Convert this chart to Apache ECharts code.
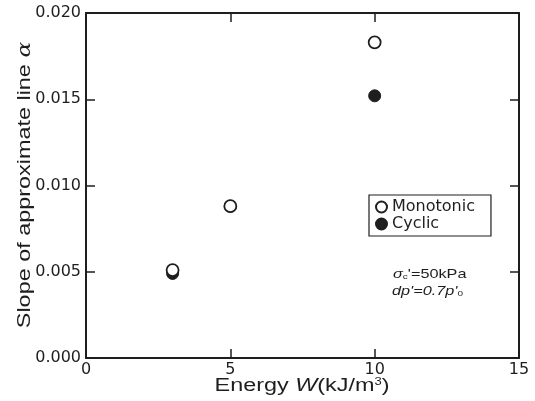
<!DOCTYPE html>
<html>
<head>
<meta charset="utf-8">
<script src="https://cdn.jsdelivr.net/npm/echarts@6/dist/echarts.min.js"></script>
<style>
html,body{margin:0;padding:0;background:#fff;}
#chart{width:535px;height:401px;}
</style>
</head>
<body>
<div id="chart"></div>
<script>
// Energy W (kJ/m3) and slope of approximate line alpha
const energy = [3, 5, 10];
const monotonic = [0.0051, 0.0088, 0.0183];
const cyclic = [0.0049, 0.0088, 0.0152];
const xTicks = [0, 5, 10, 15];
const yTicks = [0.000, 0.005, 0.010, 0.015, 0.020];

const ink = '#1e1e1e';
const sans = '"Liberation Sans", Arial, sans-serif';
const wide = '"DejaVu Sans", sans-serif';
const stretch = 1.3;   // horizontally widened lettering

const toPairs = (xs, ys) => xs.map((x, i) => [x, ys[i]]);

const chart = echarts.init(document.getElementById('chart'));

const frameLine = { show: true, onZero: false, lineStyle: { color: ink, width: 2 } };
const tickIn = { show: true, inside: true, length: 9, lineStyle: { color: ink, width: 1.5 } };

chart.setOption({
  animation: false,
  backgroundColor: '#fff',
  textStyle: { fontFamily: sans },
  grid: { left: 86, right: 16, top: 13, bottom: 43 },
  legend: {
    data: ['Monotonic', 'Cyclic'],
    orient: 'vertical',
    left: 369,
    top: 195,
    itemWidth: 11,
    itemHeight: 11,
    itemGap: 1,
    padding: [4, 16, 4, 6],
    borderColor: ink,
    borderWidth: 1.2,
    borderRadius: 0,
    selectedMode: false,
    textStyle: { fontFamily: wide, fontSize: 16, color: ink }
  },
  xAxis: [{
    type: 'value',
    min: 0, max: 15, interval: 5,
    position: 'bottom',
    splitLine: { show: false },
    axisLine: frameLine,
    axisTick: tickIn,
    axisLabel: {
      margin: 4, fontSize: 16, color: ink, fontFamily: wide,
      formatter: v => xTicks.includes(v) ? String(v) : ''
    }
  }, {
    type: 'value',
    min: 0, max: 15, interval: 5,
    position: 'top',
    splitLine: { show: false },
    axisLine: frameLine,
    axisTick: tickIn,
    axisLabel: { show: false }
  }],
  yAxis: [{
    type: 'value',
    min: 0, max: 0.02, interval: 0.005,
    position: 'left',
    splitLine: { show: false },
    axisLine: frameLine,
    axisTick: tickIn,
    axisLabel: {
      margin: 5, fontSize: 16, color: ink, fontFamily: wide,
      formatter: v => {
        const t = yTicks.find(y => Math.abs(y - v) < 1e-9);
        return t === undefined ? '' : t.toFixed(3);
      }
    }
  }, {
    type: 'value',
    min: 0, max: 0.02, interval: 0.005,
    position: 'right',
    splitLine: { show: false },
    axisLine: frameLine,
    axisTick: tickIn,
    axisLabel: { show: false }
  }],
  series: [{
    name: 'Cyclic',
    type: 'scatter',
    symbol: 'circle',
    symbolSize: 12,
    itemStyle: { color: ink, borderColor: ink, borderWidth: 1, opacity: 1 },
    emphasis: { disabled: true },
    data: toPairs(energy, cyclic),
    z: 2
  }, {
    name: 'Monotonic',
    type: 'scatter',
    symbol: 'circle',
    symbolSize: 12,
    itemStyle: { color: '#fff', borderColor: ink, borderWidth: 1.8, opacity: 1 },
    emphasis: { disabled: true },
    data: toPairs(energy, monotonic),
    z: 3
  }],
  graphic: [{
    // x axis title
    type: 'text',
    x: 302, y: 386,
    scaleX: stretch,
    style: {
      text: '{n|Energy }{i|W}{n|(kJ/m}{s|3}{n|)}',
      align: 'center', verticalAlign: 'middle',
      rich: {
        n: { fontSize: 18, fill: ink, fontFamily: sans },
        i: { fontSize: 18, fill: ink, fontFamily: sans, fontStyle: 'italic' },
        s: { fontSize: 10, fill: ink, fontFamily: sans, verticalAlign: 'top', padding: [0, 0, 8, 0] }
      }
    }
  }, {
    // y axis title
    type: 'text',
    x: 25, y: 185,
    rotation: Math.PI / 2,
    scaleX: stretch,
    style: {
      text: '{n|Slope of approximate line }{i|α}',
      align: 'center', verticalAlign: 'middle',
      rich: {
        n: { fontSize: 18, fill: ink, fontFamily: sans },
        i: { fontSize: 18, fill: ink, fontFamily: '"DejaVu Serif", serif', fontStyle: 'italic' }
      }
    }
  }, {
    type: 'text',
    x: 393, y: 274,
    scaleX: 1.25,
    style: {
      text: '{g|σ}{sub|c}{n|\'=50kPa}',
      verticalAlign: 'middle',
      rich: {
        g: { fontSize: 13, fontStyle: 'italic', fill: ink, fontFamily: sans },
        sub: { fontSize: 8, fill: ink, fontFamily: sans, verticalAlign: 'bottom', padding: [5, 0, 0, 0] },
        n: { fontSize: 13, fill: ink, fontFamily: sans }
      }
    }
  }, {
    type: 'text',
    x: 392, y: 291,
    scaleX: 1.25,
    style: {
      text: '{i|dp\'=0.7p\'}{sub|0}',
      verticalAlign: 'middle',
      rich: {
        i: { fontSize: 13, fontStyle: 'italic', fill: ink, fontFamily: sans },
        sub: { fontSize: 8, fill: ink, fontFamily: sans, verticalAlign: 'bottom', padding: [5, 0, 0, 0] }
      }
    }
  }]
});
</script>
</body>
</html>
